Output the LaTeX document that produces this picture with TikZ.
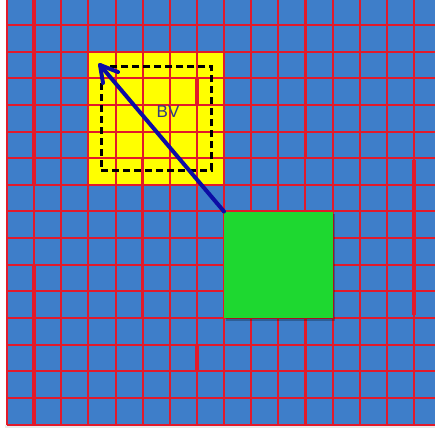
\documentclass[tikz,border=0pt]{standalone}
\usepackage{fontspec}
\setmainfont{Liberation Sans}
\definecolor{cellblue}{RGB}{62,126,201}
\definecolor{gridred}{RGB}{226,26,42}
\definecolor{bvyellow}{RGB}{255,255,0}
\definecolor{bvgreen}{RGB}{30,216,48}
\definecolor{arrowblue}{RGB}{12,12,165}
\definecolor{labelblue}{RGB}{48,58,130}
\tikzset{
  gridline/.style={draw=gridred, line width=2pt},
  thickline/.style={draw=gridred, line width=3.4pt},
  dashbox/.style={draw=black, line width=2.6pt, dash pattern=on 7pt off 4pt, fill=none, inner sep=0pt, minimum width=110pt, minimum height=104pt},
  vecline/.style={draw=arrowblue, line width=4pt, line cap=round, line join=round},
}
\begin{document}
\begin{tikzpicture}[x=1pt,y=-1pt]
\useasboundingbox (0,0) rectangle (435,428);
\fill[white] (0,0) rectangle (435,428);
\fill[black!8] (5,424.6) rectangle (435,428);
\fill[cellblue] (7,0) rectangle (435,424.6);
% yellow region
\node[fill=bvyellow, inner sep=0pt, minimum width=135.6pt, minimum height=133.3pt, anchor=north west] (yel) at (88.4,51.6) {};
% grid
\foreach \k in {0,...,15}{
  \pgfmathsetmacro{\xx}{7+27.13*\k}
  \draw[gridline] (\xx,0) -- (\xx,424.6);
}
\foreach \k in {0,...,15}{
  \pgfmathsetmacro{\yy}{25+26.64*\k}
  \draw[gridline] (7,\yy) -- (435,\yy);
}
% irregular thicker segments
\draw[thickline] (34.1,0) -- (34.1,185);
\draw[thickline] (34.1,265) -- (34.1,424.6);
\draw[thickline] (305.4,0) -- (305.4,158);
\draw[thickline] (305.4,318) -- (305.4,424.6);
\draw[thickline] (414,160) -- (414,315);
\draw[thickline] (142.7,158) -- (142.7,318);
\draw[thickline] (196.9,78) -- (196.9,105);
\draw[thickline] (196.9,344.7) -- (196.9,371.3);
% green square with shadow
\fill[black, opacity=0.25] (226,214) rectangle (335,320.5);
\node[fill=bvgreen, inner sep=0pt, minimum width=108.6pt, minimum height=106.5pt, anchor=north west] (grn) at (224,211.5) {};
% dashed bounding volume
\node[dashbox, anchor=north west] (bv) at (100,65) {};
\node[text=labelblue, font=\fontsize{17}{17}\selectfont, inner sep=0pt] (bvl) at (168,112) {BV};
% arrow
\coordinate (tip) at (bv.north west);
\draw[vecline] (grn.north west) -- (tip);
\draw[vecline] (tip) ++(18,7) -- (tip) -- ++(3,18);
\end{tikzpicture}
\end{document}
